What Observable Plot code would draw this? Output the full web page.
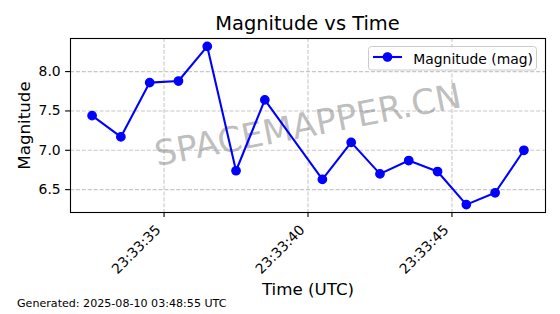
<!DOCTYPE html>
<html><head><meta charset="utf-8">
<script src="https://cdn.jsdelivr.net/npm/d3@7"></script>
<script src="https://cdn.jsdelivr.net/npm/@observablehq/plot@0.6"></script>
<style>
body{margin:0;background:#fff;font-family:"DejaVu Sans",sans-serif;color:#000;}
#wrap{position:relative;width:560px;height:314px;overflow:hidden;background:#fff;}
#title{height:36px;box-sizing:border-box;padding:13px 15px 0 70px;text-align:center;font-size:19.44px;line-height:22.6px;white-space:nowrap;}
#chart{height:262px;}
#footer{padding-left:17px;font-size:11.1px;line-height:12.9px;white-space:nowrap;}
#legend{position:absolute;left:368px;top:46px;}
</style></head><body>
<div id="wrap">
<div id="title">Magnitude vs Time</div>
<div id="chart"></div>
<div id="footer">Generated: 2025-08-10 03:48:55 UTC</div>
<svg id="legend" width="170" height="25">
  <rect x="0.5" y="0.5" width="168" height="23.5" rx="3" fill="#fff" fill-opacity="0.8" stroke="#cccccc" stroke-width="1"></rect>
  <line x1="5" x2="34" y1="11" y2="11" stroke="#0000ff" stroke-width="2.08"></line>
  <circle cx="19.5" cy="11" r="4.17" fill="#0000ff" stroke="#0000ff" stroke-width="1.39"></circle>
  <text x="45.3" y="17.5" font-family="DejaVu Sans" font-size="13.9px" fill="#000">Magnitude (mag)</text>
</svg>
</div>
<script>
const times = [
  "2025-08-09T23:33:32.500Z","2025-08-09T23:33:33.500Z","2025-08-09T23:33:34.500Z",
  "2025-08-09T23:33:35.500Z","2025-08-09T23:33:36.500Z","2025-08-09T23:33:37.500Z",
  "2025-08-09T23:33:38.500Z","2025-08-09T23:33:40.500Z","2025-08-09T23:33:41.500Z",
  "2025-08-09T23:33:42.500Z","2025-08-09T23:33:43.500Z","2025-08-09T23:33:44.500Z",
  "2025-08-09T23:33:45.500Z","2025-08-09T23:33:46.500Z","2025-08-09T23:33:47.500Z"
];
const magnitudes = [7.44, 7.17, 7.86, 7.88, 8.32, 6.74, 7.64, 6.63, 7.10, 6.70, 6.87, 6.73, 6.31, 6.46, 7.00];
const xTickTimes = ["2025-08-09T23:33:35Z", "2025-08-09T23:33:40Z", "2025-08-09T23:33:45Z"];
const yTicks = [6.5, 7.0, 7.5, 8.0];
const xDomain = ["2025-08-09T23:33:31.750Z", "2025-08-09T23:33:48.250Z"];
const yDomain = [6.2095, 8.4205];

const data = times.map((t, i) => ({time: new Date(t), mag: magnitudes[i]}));
const tickDates = xTickTimes.map(t => new Date(t));
const fmt = d3.utcFormat("%H:%M:%S");
const gridStyle = {stroke: "#b0b0b0", strokeOpacity: 0.7, strokeWidth: 1.1, strokeDasharray: "4.1,1.8"};

const plot = Plot.plot({
  width: 560, height: 262,
  marginLeft: 70, marginRight: 15, marginTop: 2, marginBottom: 86,
  style: {fontFamily: "DejaVu Sans", fontSize: "13.9px", background: "#fff", overflow: "visible", color: "#000"},
  x: {type: "utc", domain: xDomain.map(d => new Date(d))},
  y: {domain: yDomain},
  marks: [
    Plot.gridX(tickDates, gridStyle),
    Plot.gridY(yTicks, gridStyle),
    Plot.text(["SPACEMAPPER.CN"], {text: d => d, frameAnchor: "middle", rotate: -11, fontSize: 34.7, fill: "#808080", fillOpacity: 0.5}),
    Plot.line(data, {x: "time", y: "mag", stroke: "#0000ff", strokeWidth: 2.08}),
    Plot.dot(data, {x: "time", y: "mag", r: 4.17, fill: "#0000ff", stroke: "#0000ff", strokeWidth: 1.39}),
    Plot.frame({stroke: "#000", strokeWidth: 1.1}),
    Plot.axisY(yTicks, {tickSize: 4.9, tickPadding: 4.9, tickFormat: d3.format(".1f"), fontSize: 13.9, label: null, strokeWidth: 1.1}),
    Plot.axisX(tickDates, {tickSize: 4.9, tickFormat: () => "", label: null, strokeWidth: 1.1}),
    Plot.text(tickDates, {x: d => d, text: d => fmt(d), frameAnchor: "bottom", rotate: -45, textAnchor: "end", lineAnchor: "middle", dx: -5.7, dy: 15, fontSize: 13.9, fill: "#000"}),
    Plot.text(["Time (UTC)"], {text: d => d, frameAnchor: "bottom", textAnchor: "middle", dy: 82, lineAnchor: "bottom", fontSize: 16.7, fill: "#000"}),
    Plot.text(["Magnitude"], {text: d => d, frameAnchor: "left", textAnchor: "middle", rotate: -90, dx: -40.8, lineAnchor: "bottom", fontSize: 16.7, fill: "#000"})
  ]
});
document.getElementById("chart").appendChild(plot);
</script>
</body></html>
